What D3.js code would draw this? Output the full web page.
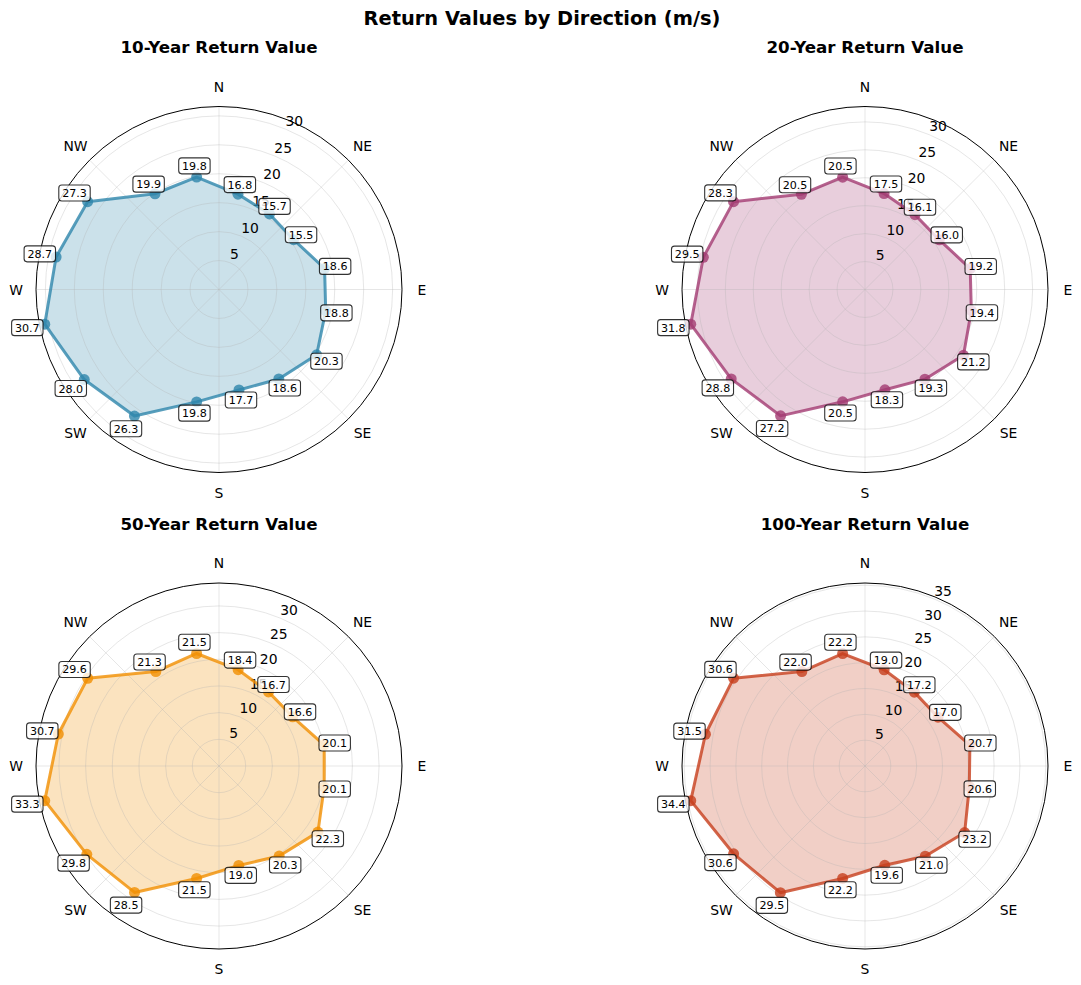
<!DOCTYPE html>
<html><head><meta charset="utf-8">
<script src="https://cdn.jsdelivr.net/npm/d3@7"></script>
<style>
body{margin:0;background:#fff}
text{font-family:"DejaVu Sans",sans-serif}
</style>
</head><body>
<svg id="chart" width="1081" height="985"></svg>
<script>
// ---- data ----
const compassLabels = ["N","NE","E","SE","S","SW","W","NW"];
const sectorCount = 16;
const periodTitles = ["10-Year Return Value","20-Year Return Value","50-Year Return Value","100-Year Return Value"];
const values10  = [16.8,15.7,15.5,18.6,18.8,20.3,18.6,17.7,19.8,26.3,28.0,30.7,28.7,27.3,19.9,19.8];
const values20  = [17.5,16.1,16.0,19.2,19.4,21.2,19.3,18.3,20.5,27.2,28.8,31.8,29.5,28.3,20.5,20.5];
const values50  = [18.4,16.7,16.6,20.1,20.1,22.3,20.3,19.0,21.5,28.5,29.8,33.3,30.7,29.6,21.3,21.5];
const values100 = [19.0,17.2,17.0,20.7,20.6,23.2,21.0,19.6,22.2,29.5,30.6,34.4,31.5,30.6,22.0,22.2];
const radialTicks = [5,10,15,20,25,30,35];
const seriesColors = ["#2E86AB","#A23B72","#F18F01","#C73E1D"];
const suptitle = "Return Values by Direction (m/s)";

const allSeries = [values10, values20, values50, values100];

// ---- layout ----
const svg = d3.select("#chart");
const R = 183;
const centers = [[219,289.5],[865,289.5],[219,766],[865,766]];

svg.append("text").attr("x",542).attr("y",25).attr("text-anchor","middle")
  .attr("font-size","19.4px").attr("font-weight","bold").text(suptitle);

const angle = d3.scaleLinear().domain([0, sectorCount]).range([0, 2*Math.PI]);
const compassAngle = d3.scaleLinear().domain([0, compassLabels.length]).range([0, 2*Math.PI]);

function pt(a, r){ return [r*Math.sin(a), -r*Math.cos(a)]; }

allSeries.forEach((vals, idx) => {
  const [cx, cy] = centers[idx];
  const color = seriesColors[idx];
  const rmax = d3.max(vals) * 1.03;
  const rs = d3.scaleLinear().domain([0, rmax]).range([0, R]);
  const g = svg.append("g").attr("transform", `translate(${cx},${cy})`);

  // title
  svg.append("text").attr("x",cx).attr("y",cy-236.5).attr("text-anchor","middle")
    .attr("font-size","16.7px").attr("font-weight","bold").text(periodTitles[idx]);

  const lineGen = d3.lineRadial()
    .angle((d,i) => angle(i+0.5))
    .radius(d => rs(d))
    .curve(d3.curveLinearClosed);

  // fill
  g.append("path").attr("d", lineGen(vals)).attr("fill", color).attr("fill-opacity",0.25).attr("stroke","none");

  // grid
  const ticks = radialTicks.filter(t => t < rmax);
  ticks.forEach(t => {
    g.append("circle").attr("r", rs(t)).attr("fill","none")
      .attr("stroke","#b0b0b0").attr("stroke-opacity",0.4).attr("stroke-width",0.8);
  });
  compassLabels.forEach((lab,i) => {
    const [x,y] = pt(compassAngle(i), R);
    g.append("line").attr("x1",0).attr("y1",0).attr("x2",x).attr("y2",y)
      .attr("stroke","#b0b0b0").attr("stroke-opacity",0.4).attr("stroke-width",0.8);
    const [lx,ly] = pt(compassAngle(i), R+20);
    g.append("text").attr("x",lx).attr("y",ly).attr("dy","0.36em").attr("text-anchor","middle")
      .attr("font-size","13.9px").text(lab);
  });
  // radial tick labels
  ticks.forEach(t => {
    const [x,y] = pt(Math.PI/8, rs(t));
    g.append("text").attr("x",x).attr("y",y-3.3).attr("text-anchor","start")
      .attr("font-size","13.9px").text(t);
  });

  // line + markers
  g.append("path").attr("d", lineGen(vals)).attr("fill","none")
    .attr("stroke",color).attr("stroke-opacity",0.8).attr("stroke-width",3).attr("stroke-linejoin","round");
  vals.forEach((v,i) => {
    const [x,y] = pt(angle(i+0.5), rs(v));
    g.append("circle").attr("cx",x).attr("cy",y).attr("r",5.5).attr("fill",color).attr("fill-opacity",0.8);
  });

  // spine
  g.append("circle").attr("r",R).attr("fill","none").attr("stroke","#000").attr("stroke-width",1);

  // value labels
  vals.forEach((v,i) => {
    const [x,y] = pt(angle(i+0.5), rs(v*1.1));
    const lg = g.append("g");
    const rect = lg.append("rect");
    const tx = lg.append("text").attr("x",x).attr("y",y).attr("dy","0.36em").attr("text-anchor","middle")
      .attr("font-size","11.1px").attr("fill","#000").text(v.toFixed(1));
    const w = tx.node().getComputedTextLength() + 6.7;
    const h = 16;
    rect.attr("x", x-w/2).attr("y", y-h/2).attr("width",w).attr("height",h)
      .attr("rx",3).attr("ry",3).attr("fill","#fff").attr("fill-opacity",0.8)
      .attr("stroke","#000").attr("stroke-opacity",0.8).attr("stroke-width",1.1);
  });
});
</script>
</body></html>
